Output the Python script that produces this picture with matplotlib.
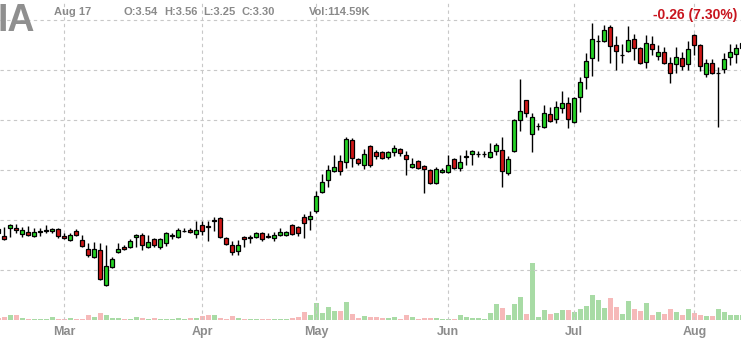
# Candlestick chart with volume, finviz style
import numpy as np
import matplotlib.pyplot as plt

opens = [1.41, 1.34, 1.42, 1.42, 1.36, 1.38, 1.34, 1.38, 1.39, 1.39,
         1.41, 1.34, 1.30, 1.39, 1.30, 1.21, 1.13, 1.20, 0.85, 1.03,
         1.18, 1.23, 1.23, 1.33, 1.35, 1.23, 1.31, 1.23, 1.27, 1.34,
         1.33, 1.39, 1.40, 1.36, 1.45, 1.44, 1.49, 1.52, 1.32, 1.25,
         1.19, 1.33, 1.32, 1.33, 1.37, 1.34, 1.32, 1.35, 1.35, 1.45,
         1.43, 1.53, 1.51, 1.59, 1.78, 1.90, 1.99, 2.09, 2.08, 2.30,
         2.11, 2.05, 2.24, 2.18, 2.18, 2.13, 2.18, 2.21, 2.15, 2.03,
         2.09, 2.04, 2.00, 1.87, 1.98, 1.98, 2.11, 2.02, 2.13, 2.16,
         2.16, 2.16, 2.13, 2.19, 2.20, 1.97, 2.19, 2.50, 2.70, 2.36,
         2.44, 2.43, 2.56, 2.51, 2.62, 2.67, 2.48, 2.73, 2.93, 3.12,
         3.29, 3.29, 3.43, 3.25, 3.15, 3.19, 3.31, 3.22, 3.08, 3.26,
         3.14, 3.18, 3.07, 3.06, 3.12, 3.06, 3.35, 3.25, 2.96, 3.07,
         2.97, 3.01, 3.13, 3.16, 3.22]
highs = [1.44, 1.43, 1.46, 1.46, 1.43, 1.44, 1.42, 1.42, 1.45, 1.42,
         1.42, 1.37, 1.37, 1.41, 1.35, 1.27, 1.28, 1.27, 1.25, 1.13,
         1.27, 1.25, 1.31, 1.36, 1.37, 1.35, 1.32, 1.32, 1.38, 1.37,
         1.42, 1.42, 1.42, 1.49, 1.49, 1.49, 1.53, 1.53, 1.33, 1.29,
         1.30, 1.34, 1.35, 1.38, 1.38, 1.37, 1.38, 1.42, 1.39, 1.46,
         1.44, 1.56, 1.59, 1.79, 1.96, 2.05, 2.15, 2.15, 2.33, 2.32,
         2.12, 2.21, 2.25, 2.20, 2.19, 2.19, 2.25, 2.22, 2.19, 2.12,
         2.10, 2.05, 2.01, 2.03, 2.02, 2.15, 2.12, 2.15, 2.20, 2.20,
         2.19, 2.19, 2.27, 2.27, 2.33, 2.14, 2.51, 2.91, 2.70, 2.57,
         2.47, 2.65, 2.63, 2.69, 2.79, 2.73, 2.73, 2.93, 3.17, 3.47,
         3.35, 3.45, 3.45, 3.34, 3.26, 3.44, 3.36, 3.23, 3.35, 3.34,
         3.25, 3.23, 3.13, 3.23, 3.18, 3.29, 3.36, 3.26, 3.11, 3.11,
         3.03, 3.17, 3.26, 3.26, 3.30]
lows = [1.33, 1.30, 1.33, 1.37, 1.33, 1.34, 1.33, 1.34, 1.37, 1.37,
        1.32, 1.31, 1.29, 1.34, 1.23, 1.13, 1.12, 0.90, 0.84, 1.02,
        1.17, 1.20, 1.22, 1.23, 1.20, 1.22, 1.23, 1.21, 1.24, 1.31,
        1.32, 1.38, 1.37, 1.32, 1.35, 1.29, 1.39, 1.32, 1.25, 1.15,
        1.15, 1.23, 1.27, 1.32, 1.29, 1.32, 1.29, 1.34, 1.34, 1.35,
        1.34, 1.32, 1.40, 1.57, 1.77, 1.83, 1.98, 1.95, 2.02, 2.03,
        2.05, 2.01, 2.03, 2.11, 2.11, 2.11, 2.14, 2.14, 1.95, 2.02,
        2.01, 1.77, 1.86, 1.86, 1.97, 1.97, 2.01, 1.99, 2.05, 2.05,
        2.13, 2.13, 2.12, 2.15, 1.83, 1.95, 2.18, 2.39, 2.53, 2.18,
        2.40, 2.42, 2.48, 2.47, 2.57, 2.42, 2.47, 2.58, 2.81, 2.94,
        3.09, 3.28, 3.07, 3.00, 3.07, 3.18, 3.10, 3.06, 3.02, 3.15,
        3.10, 3.06, 2.87, 2.97, 3.00, 3.00, 3.15, 2.99, 2.93, 2.96,
        2.43, 2.97, 3.05, 3.07, 3.20]
closes = [1.37, 1.31, 1.45, 1.40, 1.40, 1.35, 1.38, 1.39, 1.40, 1.41,
          1.34, 1.32, 1.35, 1.35, 1.24, 1.15, 1.21, 0.91, 1.04, 1.11,
          1.21, 1.21, 1.29, 1.35, 1.25, 1.28, 1.25, 1.31, 1.37, 1.35,
          1.40, 1.39, 1.38, 1.40, 1.39, 1.43, 1.50, 1.33, 1.26, 1.18,
          1.25, 1.31, 1.33, 1.37, 1.31, 1.33, 1.35, 1.38, 1.38, 1.36,
          1.37, 1.47, 1.54, 1.74, 1.88, 2.00, 2.03, 1.99, 2.31, 2.12,
          2.07, 2.16, 2.05, 2.14, 2.12, 2.18, 2.22, 2.17, 2.11, 2.06,
          2.02, 2.01, 1.87, 2.01, 2.00, 2.05, 2.02, 2.08, 2.14, 2.19,
          2.16, 2.16, 2.18, 2.25, 1.99, 2.11, 2.50, 2.59, 2.57, 2.53,
          2.44, 2.57, 2.49, 2.63, 2.67, 2.51, 2.72, 2.88, 3.09, 3.31,
          3.29, 3.40, 3.24, 3.19, 3.15, 3.30, 3.22, 3.07, 3.27, 3.21,
          3.18, 3.07, 2.97, 3.13, 3.04, 3.21, 3.25, 3.04, 3.07, 2.97,
          2.97, 3.11, 3.18, 3.22, 3.27]
# volume in thousands
volumes = [40, 60, 100, 100, 40, 20, 20, 20, 20, 60,
           20, 20, 40, 20, 20, 100, 60, 140, 100, 40,
           40, 20, 20, 60, 40, 20, 40, 20, 20, 20,
           40, 20, 40, 40, 80, 100, 100, 40, 20, 80,
           40, 20, 20, 20, 20, 20, 20, 20, 20, 40,
           60, 160, 100, 340, 140, 260, 180, 180, 360, 120,
           40, 80, 60, 60, 40, 40, 60, 20, 100, 60,
           20, 40, 40, 40, 20, 20, 20, 100, 60, 40,
           40, 20, 140, 320, 240, 100, 320, 460, 120, 1140,
           60, 200, 120, 140, 200, 200, 160, 220, 280, 500,
           400, 240, 440, 260, 120, 380, 220, 180, 340, 100,
           160, 120, 220, 160, 100, 220, 140, 100, 80, 80,
           220, 160, 100, 100, 100]

months = ['Mar', 'Apr', 'May', 'Jun', 'Jul', 'Aug']
month_idx = [11, 34, 53, 75, 96, 116]

header_date = 'Aug 17'
header_ohlc = ['O:3.54', 'H:3.56', 'L:3.25', 'C:3.30']
header_vol = 'Vol:114.59K'
header_change = '-0.26 (7.30%)'
ticker = 'IA'

W, H = 741, 340
plt.rcParams['font.family'] = ['Liberation Sans', 'DejaVu Sans']

o = np.array(opens)
h = np.array(highs)
l = np.array(lows)
c = np.array(closes)
v = np.array(volumes)
idx = np.arange(len(o))
up = c >= o

fig = plt.figure(figsize=(W / 100, H / 100), dpi=100)
ax = fig.add_axes([0, 20 / H, 1, 320 / H])
ax.set_xlim(0.283, 123.78)
ax.set_ylim(0.5, 3.7)

grid_kw = dict(color='#c8c8c8', lw=0.8, ls=(0, (3, 3)), zorder=0)
for y in np.arange(0.5, 3.51, 0.5):
    ax.axhline(y, **grid_kw)
for m in month_idx:
    ax.axvline(m, **grid_kw)

# volume on its own scale
vax = ax.twinx()
vax.set_ylim(0, 6400)
vax.bar(idx, v, width=0.83, color=np.where(up, '#a8dba5', '#f6b9b9'), zorder=1)
vax.set_axis_off()

ax.set_zorder(vax.get_zorder() + 1)
ax.patch.set_visible(False)

ax.vlines(idx, l, h, color='black', lw=1.0, zorder=2)
body_lo = np.minimum(o, c)
body_h = np.abs(c - o)
ax.bar(idx, body_h, bottom=body_lo, width=0.72,
       color=np.where(up, '#25d325', '#cf1717'),
       edgecolor='black', linewidth=0.9, zorder=3)

for s in ax.spines.values():
    s.set_visible(False)
ax.set_xticks([])
ax.set_yticks([])

for m, name in zip(month_idx, months):
    ax.text(m, -0.02, name, transform=ax.get_xaxis_transform(),
            ha='center', va='top', fontsize=9, fontweight='bold', color='#8c8c8c')


def px(x, y):
    return x / W, 1 - y / H


fig.text(*px(-3, 31), ticker, fontsize=27, fontweight='bold', color='#8f8f8f',
         ha='left', va='baseline')
hdr = dict(fontsize=8, fontweight='bold', color='#8a8a8a', va='baseline')
fig.text(*px(54, 15), header_date, **hdr)
for x, t in zip([124, 164, 203, 241], header_ohlc):
    fig.text(*px(x, 15), t, **hdr)
fig.text(*px(309, 15), header_vol, **hdr)
fig.text(*px(737, 19), header_change, fontsize=10, fontweight='bold',
         color='#c8141e', ha='right', va='baseline')

fig.savefig('out.png', dpi=100)
